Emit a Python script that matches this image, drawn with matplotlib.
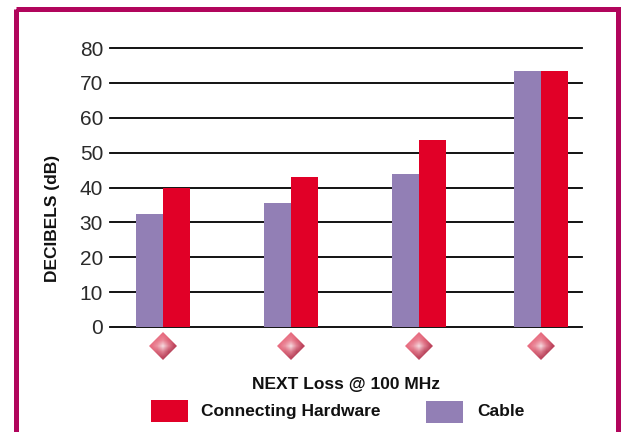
import matplotlib
matplotlib.use("Agg")
import numpy as np
import matplotlib.pyplot as plt
from matplotlib.patches import Rectangle, Polygon

plt.rcParams['font.family'] = ['Liberation Sans', 'DejaVu Sans']

W, H = 621, 432
group_centers = [163, 291, 419, 541]
cable = [32.3, 35.5, 44, 73.5]
hardware = [40, 43, 53.5, 73.5]
y_ticks = [0, 10, 20, 30, 40, 50, 60, 70, 80]

PURPLE = '#927fb5'
RED = '#e10027'
FRAME = '#b1055c'
BAR_W = 27

# Shading of the diamond icon, from its top-left to its bottom-right corner
ICON_SHADE = np.array([
    [[232, 110, 130], [232, 110, 130], [232, 110, 130], [226, 100, 120], [216, 90, 110]],
    [[232, 110, 130], [232, 118, 136], [236, 140, 156], [222, 100, 120], [200, 76, 98]],
    [[232, 110, 130], [236, 150, 165], [246, 222, 226], [226, 130, 148], [190, 70, 94]],
    [[226, 100, 120], [216, 100, 120], [224, 130, 148], [190, 76, 98], [180, 64, 88]],
    [[216, 90, 110], [196, 76, 98], [190, 72, 96], [180, 64, 88], [176, 60, 84]],
], dtype=float) / 255

fig = plt.figure(figsize=(W / 100, H / 100), dpi=100, facecolor='white')

# Outer magenta frame, open past the bottom edge
bg = fig.add_axes([0, 0, 1, 1])
bg.set_xlim(0, W)
bg.set_ylim(H, 0)
bg.axis('off')
bg.add_patch(Rectangle((15.5, 8.5), 602, 440, fill=False, ec=FRAME, lw=3.6))

# Plot area: y=0 sits at pixel 327, y=80 at pixel 48
left, right, top, bottom = 110, 582, 48, 327
ax = fig.add_axes([left / W, 1 - bottom / H, (right - left) / W, (bottom - top) / H])
ax.set_xlim(left, right)
ax.set_ylim(0, 80)
ax.patch.set_alpha(0)
for s in ax.spines.values():
    s.set_visible(False)
ax.set_yticks(y_ticks)
ax.set_xticks([])
ax.tick_params(axis='y', length=0, pad=5, labelsize=15, labelcolor='#2a2a2a')
ax.grid(axis='y', color='black', lw=1.3)
ax.set_axisbelow(True)
for gl in ax.get_ygridlines():
    gl.set_clip_on(False)

ax.bar([c - BAR_W / 2 for c in group_centers], cable, BAR_W, color=PURPLE, zorder=3)
ax.bar([c + BAR_W / 2 for c in group_centers], hardware, BAR_W, color=RED, zorder=3)

bg.text(53, 218, 'DECIBELS (dB)', rotation=90, ha='center', va='center',
        fontsize=12.5, fontweight='bold', color='#111111')

# Soft shaded diamond under each group
ICON_R = 14
for c in group_centers:
    cy = 346
    im = bg.imshow(ICON_SHADE, extent=(c - ICON_R, c + ICON_R, cy + ICON_R, cy - ICON_R),
                   interpolation='bilinear', aspect='auto', zorder=2)
    clip = Polygon([(c, cy - ICON_R), (c + ICON_R, cy), (c, cy + ICON_R), (c - ICON_R, cy)],
                   transform=bg.transData, fill=False, lw=0)
    bg.add_patch(clip)
    im.set_clip_path(clip)
bg.set_xlim(0, W)
bg.set_ylim(H, 0)

bg.text(346, 385, 'NEXT Loss @ 100 MHz', ha='center', va='center',
        fontsize=12.5, fontweight='bold', color='#111111')

# Legend swatches and labels
bg.add_patch(Rectangle((151, 400), 37, 22, color=RED, lw=0))
bg.text(201, 411.5, 'Connecting Hardware', ha='left', va='center',
        fontsize=12.5, fontweight='bold', color='#111111')
bg.add_patch(Rectangle((426, 401), 37, 22, color=PURPLE, lw=0))
bg.text(477, 411.5, 'Cable', ha='left', va='center',
        fontsize=12.5, fontweight='bold', color='#111111')

fig.savefig('out.png', dpi=100)
